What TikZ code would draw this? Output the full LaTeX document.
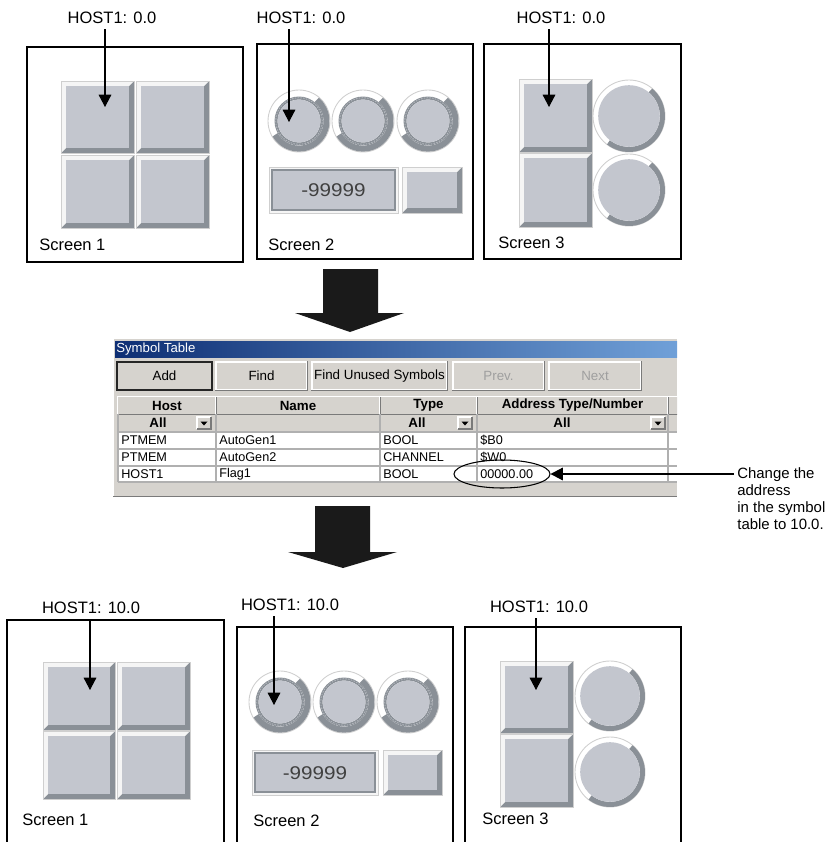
\documentclass[tikz,border=0pt]{standalone}
\usepackage{fontspec}
\setmainfont{Liberation Sans}
\usetikzlibrary{arrows.meta,shapes.geometric}
\definecolor{face}{HTML}{C3C6CE}
\definecolor{bvlite}{HTML}{F5F5F5}
\definecolor{bvdark}{HTML}{8A9097}
\definecolor{bvmid}{HTML}{B4B8BE}
\definecolor{rimln}{HTML}{CFCFCF}
\definecolor{winbg}{HTML}{D6D3CE}
\definecolor{gridc}{HTML}{B0B0B0}
\definecolor{hdshc}{HTML}{7A7A7A}
\definecolor{ttlL}{HTML}{0E2F74}
\definecolor{ttlR}{HTML}{70A0D8}
\definecolor{blk}{HTML}{1A1A1A}

\newcommand\bvbtn[4]{%
  \fill[bvdark] (#1,-#2) rectangle (#3,-#4);
  \fill[bvlite] (#1,-#2) -- (#3,-#2) -- ({#3-5},{-#2-5}) -- ({#1+5},{-#2-5}) -- ({#1+5},{-#4+5}) -- (#1,-#4) -- cycle;
  \fill[face] ({#1+5},{-#2-5}) rectangle ({#3-5},{-#4+5});
  \draw[rimln, line width=0.4pt] (#1,-#2) rectangle (#3,-#4);}
\newcommand\dialw[2]{%
  \fill[white] (#1,-#2) circle[radius=31];
  \draw[rimln, line width=0.5pt] (#1,-#2) circle[radius=31];
  \draw[bvdark, line width=3.4pt] ([shift={(50:27.6)}]#1,-#2) arc[start angle=50, end angle=-150, radius=27.6];
  \draw[bvdark, line width=1.7pt] (#1,-#2) circle[radius=23];
  \draw[bvmid, line width=0.5pt, dash pattern=on 0.8pt off 0.8pt] (#1,-#2) circle[radius=23.3];
  \fill[face] (#1,-#2) circle[radius=21.4];}
\newcommand\lampw[3]{%
  \fill[white] (#1,-#2) circle[radius=#3];
  \draw[rimln, line width=0.5pt] (#1,-#2) circle[radius=#3];
  \draw[bvdark, line width=2.9pt] ([shift={(50:{#3-2.6})}]#1,-#2) arc[start angle=50, end angle=-128, radius={#3-2.6}];
  \fill[face] (#1,-#2) circle[radius={#3-5.2}];}
\newcommand\dispw[4]{%
  \fill[bvlite] (#1,-#2) rectangle (#3,-#4);
  \draw[rimln, line width=0.4pt] (#1,-#2) rectangle (#3,-#4);
  \fill[face] ({#1+3},{-#2-3}) rectangle ({#3-3},{-#4+3});
  \draw[bvdark, line width=1pt] ({#1+3},{-#2-3}) rectangle ({#3-3},{-#4+3});}
\newcommand\ddbox[2]{%
  \fill[winbg] (#1,-#2) rectangle ({#1+14},{-#2-12});
  \draw[white, line width=0.6pt] (#1,{-#2-12}) -- (#1,-#2) -- ({#1+14},-#2);
  \draw[hdshc, line width=0.8pt] ({#1+14},-#2) -- ({#1+14},{-#2-12}) -- (#1,{-#2-12});
  \fill[black] ({#1+3.5},{-#2-4.5}) -- ({#1+10.5},{-#2-4.5}) -- ({#1+7},{-#2-8.5}) -- cycle;}

\begin{document}
\begin{tikzpicture}[x=0.02cm, y=0.02cm,
    lbl/.style={font=\fontsize{9.4}{11}\selectfont, inner sep=1pt, outer sep=2pt},
    slbl/.style={font=\fontsize{9.4}{11}\selectfont, inner sep=0pt, anchor=west},
    scr/.style={draw=black, line width=0.6pt},
    ptr/.style={line width=0.6pt, -{Triangle[length=7pt,width=7.2pt]}},
    lcd/.style={font=\fontsize{10.5}{12}\selectfont, text=black!75, inner sep=0pt},
    ttl/.style={font=\fontsize{7.5}{8}\selectfont, text=white, inner sep=0pt, anchor=west},
    wbtn/.style={font=\fontsize{7.6}{8}\selectfont, fill=winbg, draw=white, line width=0.6pt, inner sep=0pt, minimum height=0.56cm},
    hd/.style={font=\fontsize{7.6}{8}\selectfont\bfseries, fill=winbg, inner sep=0pt, minimum height=0.34cm},
    fl/.style={font=\fontsize{7.6}{8}\selectfont\bfseries, inner sep=0pt},
    tb/.style={font=\fontsize{7.2}{8}\selectfont, inner sep=0pt, anchor=west},
    hdsh/.style={draw=hdshc, line width=0.8pt},
    oval/.style={ellipse, draw, line width=0.6pt, minimum width=1.92cm, minimum height=0.56cm, inner sep=0pt},
    note/.style={font=\fontsize{8.5}{9.8}\selectfont, align=left, inner sep=0pt, anchor=north west}]
  \useasboundingbox (0,0) rectangle (832,-842);
  \clip (0,0) rectangle (832,-842);

  \draw[scr] (27,-47) rectangle (243,-262);
  \bvbtn{61}{81}{134}{153} \bvbtn{136}{81}{209}{153} \bvbtn{61}{155}{134}{228} \bvbtn{136}{155}{209}{228}
  \node[slbl] (s1) at (39,-245) {Screen 1};
  \node[lbl] (h1) at (112,-18) {HOST1: 0.0}; \coordinate (t1) at (105,-107);
  \draw[ptr] (h1.south -| t1) -- (t1);

  \draw[scr] (257,-44) rectangle (473,-259);
  \dialw{299}{121} \dialw{363}{121} \dialw{428}{121}
  \dispw{269}{167}{398}{213} \bvbtn{402}{167}{462}{213}
  \node[lcd] (d1) at (333.5,-190) {\scalebox{1.12}[1]{-99999}};
  \node[slbl] (s2) at (268,-245) {Screen 2};
  \node[lbl] (h2) at (301,-18) {HOST1: 0.0}; \coordinate (t2) at (289,-122);
  \draw[ptr] (h2.south -| t2) -- (t2);

  \draw[scr] (484,-44) rectangle (681,-259);
  \bvbtn{519}{79}{592}{152} \bvbtn{519}{153}{592}{227}
  \lampw{629}{116}{36} \lampw{629}{190}{36}
  \node[slbl] (s3) at (498,-243) {Screen 3};
  \node[lbl] (h3) at (561,-18) {HOST1: 0.0}; \coordinate (t3) at (549,-107);
  \draw[ptr] (h3.south -| t3) -- (t3);

  \fill[blk] (323,-269) -- (378,-269) -- (378,-313) -- (404,-313) -- (350,-332) -- (295,-313) -- (323,-313) -- cycle;

  \begin{scope}
    \clip (113,-338) rectangle (677,-497);
    \fill[winbg] (113,-338) rectangle (677,-497);
    \draw[white, line width=0.8pt] (113.5,-497) -- (113.5,-338.5) -- (677,-338.5);
    \draw[hdshc, line width=0.8pt] (113,-496.5) -- (677,-496.5);
    \shade[left color=ttlL, right color=ttlR] (115,-341) rectangle (677,-357);
    \node[ttl] (ttl) at (116,-349) {Symbol Table};
    \node[wbtn, minimum width=1.9cm, draw=black!85, line width=1pt] (add) at (164.5,-376) {Add};
    \node[wbtn, minimum width=1.82cm] (fnd) at (261.5,-376) {Find};
    \node[wbtn, minimum width=2.7cm] (fun) at (379.5,-376) {Find Unused Symbols};
    \node[wbtn, minimum width=1.82cm, text=gray!75] (prv) at (498.5,-376) {Prev.};
    \node[wbtn, minimum width=1.84cm, text=gray!75] (nxt) at (595,-376) {Next};
    \foreach \bn in {fnd,fun,prv,nxt} \draw[hdsh] (\bn.north east) -- (\bn.south east) -- (\bn.south west);
    \node[hd, minimum width=1.96cm] (hh) at (167,-405.5) {Host};
    \node[hd, minimum width=3.28cm] (hn) at (298,-405.5) {Name};
    \node[hd, minimum width=1.94cm] (ht) at (428.5,-405.5) {Type};
    \node[hd, minimum width=3.82cm] (ha) at (572.5,-405.5) {Address Type/Number};
    \node[hd, minimum width=0.64cm] (hx) at (684,-405.5) {};
    \foreach \hc in {hh,hn,ht,ha,hx} {
      \draw[white, line width=0.8pt] (\hc.south west) -- (\hc.north west) -- (\hc.north east);
      \draw[hdsh] (\hc.north east) -- (\hc.south east) -- (\hc.south west);}
    \fill[white] (118,-432) rectangle (677,-482);
    \foreach \yy in {432,449,466,482} \draw[gridc, line width=0.8pt] (118,-\yy) -- (677,-\yy);
    \foreach \xx in {118,216,380,477,668} \draw[gridc, line width=0.8pt] (\xx,-414) -- (\xx,-482);
    \ddbox{197}{417} \ddbox{458}{417} \ddbox{651}{417}
    \node[fl] (fh) at (158,-423) {All}; \node[fl] (ft) at (417,-423) {All}; \node[fl] (fa) at (562,-423) {All};
    \node[tb] (a1) at (121,-440.5) {PTMEM}; \node[tb] (b1) at (219,-440.5) {AutoGen1};
    \node[tb] (c1) at (383,-440.5) {BOOL};  \node[tb] (e1) at (480,-440.5) {\$B0};
    \node[tb] (a2) at (121,-457.5) {PTMEM}; \node[tb] (b2) at (219,-457.5) {AutoGen2};
    \node[tb] (c2) at (383,-457.5) {CHANNEL}; \node[tb] (e2) at (480,-457.5) {\$W0};
    \node[tb] (a3) at (121,-474) {HOST1};  \node[tb] (b3) at (219,-474) {Flag1};
    \node[tb] (c3) at (383,-474) {BOOL};   \node[tb] (e3) at (480,-474) {00000.00};
  \end{scope}
  \node[oval] (ov) at (502,-474) {};
  \node[note] (nt) at (737,-467) {Change the\\address\\in the symbol\\table to 10.0.};
  \coordinate (na) at (734,-474);
  \draw[ptr] (na) -- (ov.east);

  \fill[blk] (315,-506) -- (370,-506) -- (370,-552) -- (397,-552) -- (343,-568) -- (288,-552) -- (315,-552) -- cycle;

  \draw[scr] (224,-850) -- (224,-620) -- (7,-620) -- (7,-850);
  \bvbtn{43}{662}{115}{730} \bvbtn{117}{662}{190}{730} \bvbtn{43}{731}{115}{799} \bvbtn{117}{731}{190}{799}
  \node[slbl] (s4) at (22,-820) {Screen 1};
  \node[lbl] (h4) at (91,-608) {HOST1: 10.0}; \coordinate (t4) at (90,-690);
  \draw[ptr] (h4.south -| t4) -- (t4);

  \draw[scr] (453,-850) -- (453,-627) -- (237,-627) -- (237,-850);
  \dialw{280}{702} \dialw{344}{702} \dialw{408}{702}
  \dispw{252}{750}{378}{795} \bvbtn{383}{750}{442}{795}
  \node[lcd] (d2) at (315,-773) {\scalebox{1.12}[1]{-99999}};
  \node[slbl] (s5) at (253,-821) {Screen 2};
  \node[lbl] (h5) at (290,-605) {HOST1: 10.0}; \coordinate (t5) at (274,-705);
  \draw[ptr] (h5.south -| t5) -- (t5);

  \draw[scr] (681,-850) -- (681,-627) -- (465,-627) -- (465,-850);
  \bvbtn{500}{661}{573}{733} \bvbtn{500}{734}{573}{807}
  \lampw{610}{696}{35} \lampw{610}{772}{35}
  \node[slbl] (s6) at (482,-819) {Screen 3};
  \node[lbl] (h6) at (539,-607) {HOST1: 10.0}; \coordinate (t6) at (536,-690);
  \draw[ptr] (h6.south -| t6) -- (t6);
\end{tikzpicture}
\end{document}
